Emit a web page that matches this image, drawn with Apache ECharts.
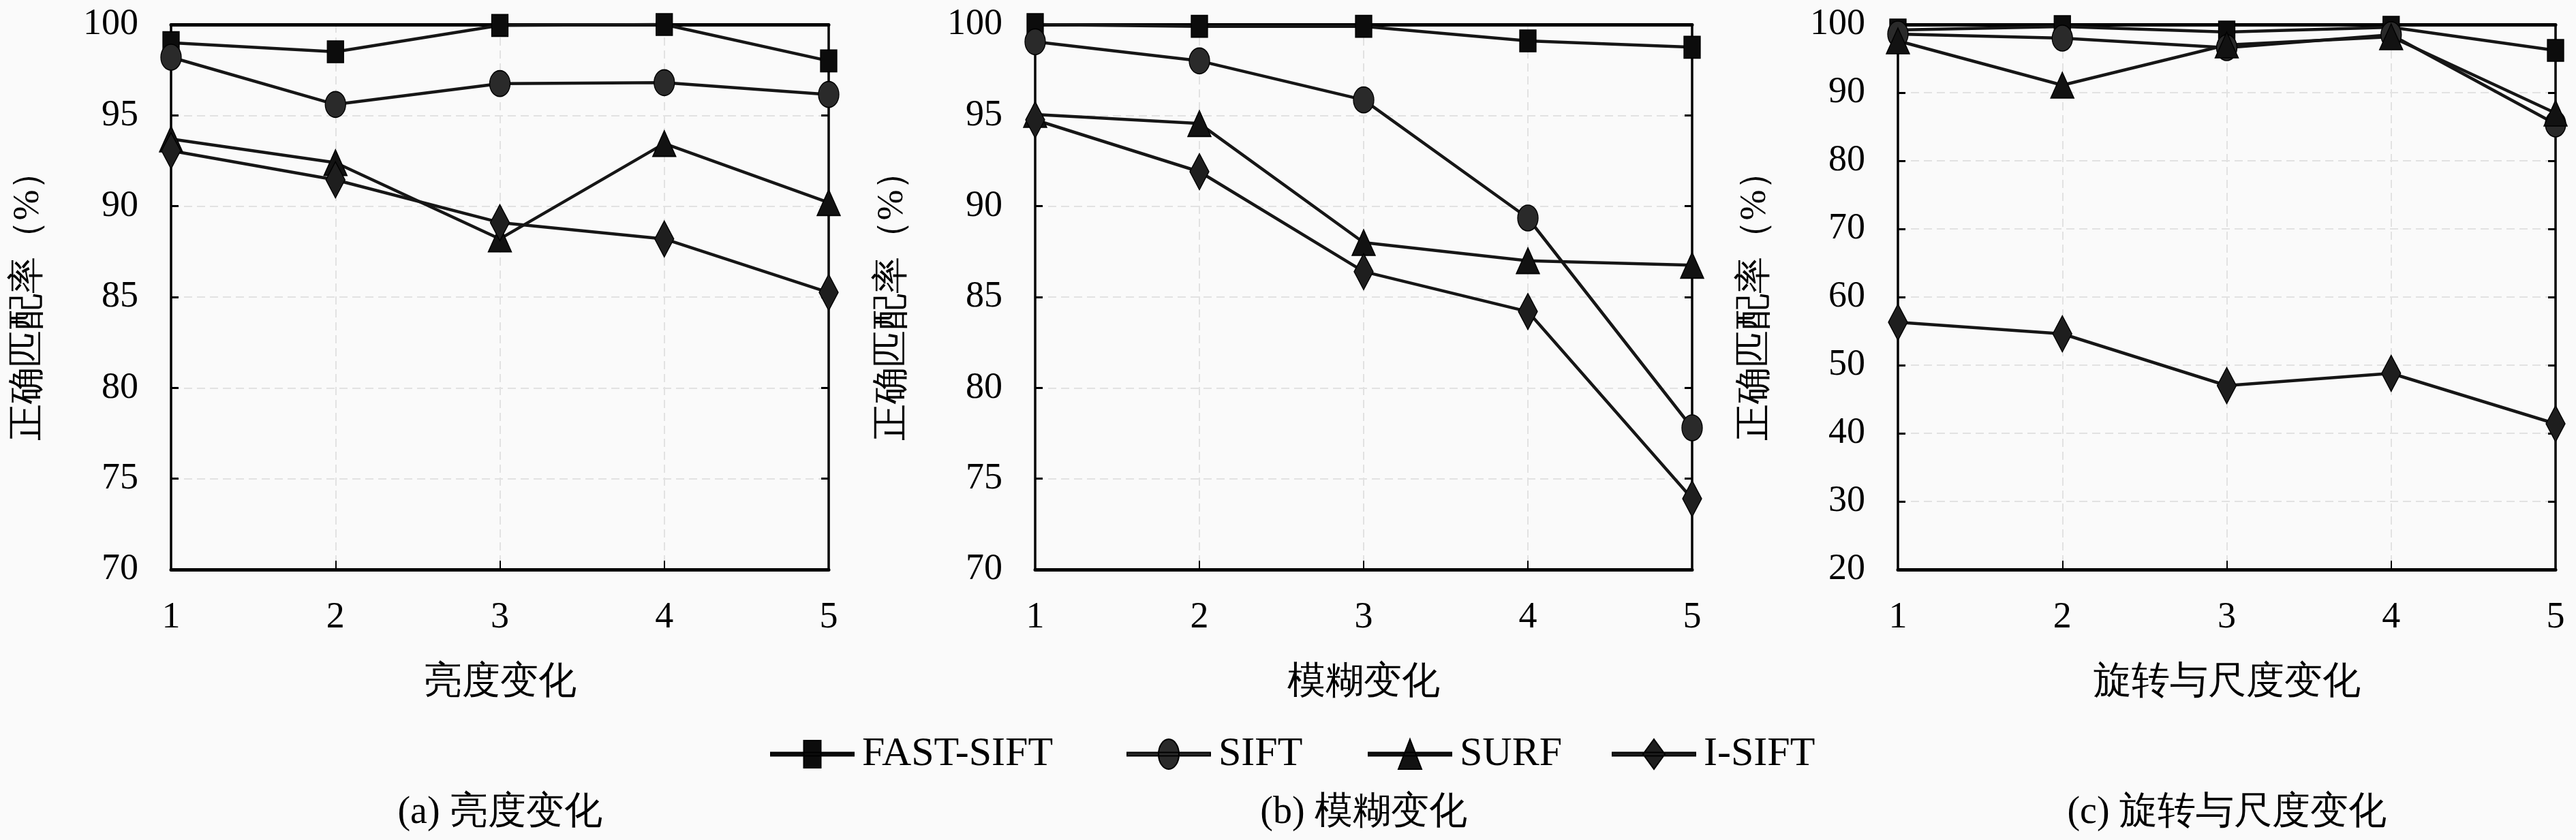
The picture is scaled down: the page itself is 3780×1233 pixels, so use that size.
<!DOCTYPE html>
<html>
<head>
<meta charset="utf-8">
<script src="https://cdn.jsdelivr.net/npm/echarts@6/dist/echarts.min.js"></script>
<style>
html,body{margin:0;padding:0;background:#fafafa;}
#chart{width:3780px;height:1233px;}
</style>
</head>
<body>
<div id="chart"></div>
<script>
// ---------- data ----------
const categories = ['1', '2', '3', '4', '5'];
const seriesNames = ['FAST-SIFT', 'SIFT', 'SURF', 'I-SIFT'];

// (a) brightness change
const fastA  = [99.0, 98.5, 99.95, 100.0, 98.0];
const siftA  = [98.2, 95.6, 96.75, 96.8, 96.15];
const surfA  = [93.7, 92.4, 88.2, 93.45, 90.2];
const isiftA = [93.05, 91.45, 89.1, 88.2, 85.25];

// (b) blur change
const fastB  = [100.0, 99.9, 99.9, 99.1, 98.75];
const siftB  = [99.05, 98.0, 95.85, 89.35, 77.8];
const surfB  = [95.05, 94.55, 88.0, 87.0, 86.75];
const isiftB = [94.75, 91.9, 86.4, 84.2, 73.9];

// (c) rotation and scale change
const fastC  = [99.2, 99.7, 98.9, 99.6, 96.2];
const siftC  = [98.6, 98.0, 96.6, 98.5, 85.4];
const surfC  = [97.6, 91.1, 97.0, 98.2, 87.0];
const isiftC = [56.3, 54.6, 47.0, 48.8, 41.4];

// axis ranges [min, max, interval]
const yRangeA = [70, 100, 5];
const yRangeB = [70, 100, 5];
const yRangeC = [20, 100, 10];

const yAxisName = '正确匹配率（%）';
const xAxisNames = ['亮度变化', '模糊变化', '旋转与尺度变化'];
const captions = ['(a) 亮度变化', '(b) 模糊变化', '(c) 旋转与尺度变化'];

// ---------- styling / layout ----------
const FONT = 'Liberation Serif';
const panels = [
  { left: 251, width: 965, data: [fastA, siftA, surfA, isiftA], range: yRangeA },
  { left: 1519, width: 964, data: [fastB, siftB, surfB, isiftB], range: yRangeB },
  { left: 2785, width: 965, data: [fastC, siftC, surfC, isiftC], range: yRangeC }
];
const GRID_TOP = 36, GRID_H = 800;
const symbols = ['rect', 'circle', 'triangle', 'diamond'];
const symbolSizes = [[24, 32], [30, 38], [34, 38], [28, 53]];
const markerColors = ['#0c0c0c', '#2a2a2a', '#121212', '#1e1e1e'];
const legendIcons = [
  'path://M0,19.5H122V24.5H0Z M48.5,2H73.5V42H48.5Z',
  'path://M0,19.5H122V24.5H0Z M46,22 A15,22 0 0,1 76,22 A15,22 0 0,1 46,22 Z',
  'path://M0,19.5H122V24.5H0Z M61,0 L78,44 L44,44 Z',
  'path://M0,19.5H122V24.5H0Z M61,0 L77,22 L61,44 L45,22 Z'
];
const legendLefts = [1130, 1653, 2007, 2365];
const gridLine = { color: '#e2e2e2', width: 2, type: [12, 7] };

const grids = [], xAxes = [], yAxes = [], series = [], graphics = [];
panels.forEach((p, i) => {
  grids.push({ left: p.left, top: GRID_TOP, width: p.width, height: GRID_H,
    show: false, containLabel: false, outerBoundsMode: 'none' });
  xAxes.push({
    type: 'category', gridIndex: i, data: categories, boundaryGap: false, position: 'bottom',
    name: xAxisNames[i], nameLocation: 'middle', nameGap: 138, nameMoveOverlap: false,
    nameTextStyle: { fontFamily: FONT, fontSize: 56, color: '#000' },
    axisLine: { show: true, onZero: false, lineStyle: { color: '#000', width: 5 } },
    axisTick: { show: true, inside: true, length: 13, alignWithLabel: true, lineStyle: { color: '#000', width: 2 } },
    axisLabel: { fontFamily: FONT, fontSize: 54, color: '#000', margin: 44 },
    splitLine: { show: true, lineStyle: gridLine }
  });
  xAxes.push({
    type: 'category', gridIndex: i, data: categories, boundaryGap: false, position: 'top',
    axisLine: { show: true, onZero: false, lineStyle: { color: '#000', width: 5 } },
    axisTick: { show: false }, axisLabel: { show: false }, splitLine: { show: false }
  });
  const yCommon = {
    type: 'value', gridIndex: i, min: p.range[0], max: p.range[1], interval: p.range[2],
    axisLine: { show: true, onZero: false, lineStyle: { color: '#000', width: 3.5 } },
    axisTick: { show: true, inside: true, length: 11, lineStyle: { color: '#000', width: 3 } }
  };
  yAxes.push(Object.assign({}, yCommon, {
    position: 'left',
    name: yAxisName, nameLocation: 'middle', nameGap: 182, nameRotate: 90, nameMoveOverlap: false,
    nameTextStyle: { fontFamily: FONT, fontSize: 54, color: '#000' },
    axisLabel: { fontFamily: FONT, fontSize: 54, color: '#000', margin: 48 },
    splitLine: { show: true, lineStyle: gridLine }
  }));
  yAxes.push(Object.assign({}, yCommon, {
    position: 'right', axisLabel: { show: false }, splitLine: { show: false }
  }));
  p.data.forEach((vals, k) => {
    series.push({
      name: seriesNames[k], type: 'line', xAxisIndex: i * 2, yAxisIndex: i * 2,
      data: vals, symbol: symbols[k], symbolSize: symbolSizes[k],
      showAllSymbol: true, clip: false,
      lineStyle: { color: '#161616', width: 4.5 },
      itemStyle: { color: markerColors[k], borderColor: '#000', borderWidth: 1.5 },
      emphasis: { disabled: true }, animation: false
    });
  });
  graphics.push({
    type: 'text',
    style: { text: captions[i], x: p.left + p.width / 2, y: 1193, textAlign: 'center', textVerticalAlign: 'middle',
      fontFamily: FONT, fontSize: 56, fill: '#000' }
  });
});

const legends = seriesNames.map((n, k) => ({
  show: true, left: legendLefts[k], top: 1077, orient: 'horizontal', padding: 0,
  itemWidth: 122, itemHeight: 44, itemGap: 0, symbolKeepAspect: true,
  selectedMode: false,
  textStyle: { fontFamily: FONT, fontSize: 60, color: '#000', padding: [0, 0, 0, 7] },
  data: [{ name: n, icon: legendIcons[k] }]
}));

const option = {
  backgroundColor: '#fafafa',
  animation: false,
  grid: grids,
  xAxis: xAxes,
  yAxis: yAxes,
  series: series,
  legend: legends,
  graphic: graphics
};

const chart = echarts.init(document.getElementById('chart'), null, { renderer: 'canvas' });
chart.setOption(option);
</script>
</body>
</html>
